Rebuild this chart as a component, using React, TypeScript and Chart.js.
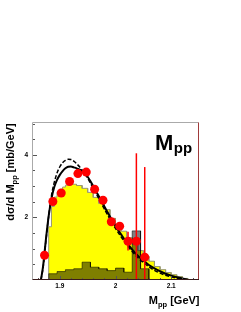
import React, { useEffect, useRef } from 'react';
import { Chart, registerables } from 'chart.js';
Chart.register(...registerables);

// measured points
const pointMass = [1.8725, 1.8875, 1.9025, 1.9175, 1.9325, 1.9475, 1.9625, 1.9775, 1.9925, 2.0075, 2.0225, 2.0375, 2.0525];
const pointXsec = [0.79, 2.51, 2.78, 3.15, 3.40, 3.45, 2.90, 2.55, 1.86, 1.72, 1.24, 1.24, 0.73];
const pointErr = [0.1, 0.1, 0.1, 0.1, 0.1, 0.1, 0.1, 0.1, 0.1, 0.1, 0.3, 2.81, 2.88];

// yellow simulation histogram: bin edges (n+1) and contents (n)
const yellowEdges = [1.88, 1.885, 1.89, 1.895, 1.90, 1.905, 1.91, 1.92, 1.93, 1.94, 1.95, 1.96, 1.97, 1.98, 1.99, 2.00, 2.01, 2.02, 2.03, 2.04, 2.05, 2.06, 2.07, 2.08, 2.09, 2.10, 2.11, 2.12, 2.13];
const yellowValues = [1.7, 2.35, 2.65, 2.8, 2.9, 2.97, 3.03, 3.06, 3.02, 2.93, 2.8, 2.64, 2.45, 2.25, 1.97, 1.76, 1.56, 1.35, 1.14, 0.94, 0.76, 0.6, 0.43, 0.33, 0.24, 0.17, 0.11, 0.05];

// dark (semi-transparent) histogram: bin edges (n+1) and contents (n)
const darkEdges = [1.88, 1.895, 1.91, 1.925, 1.94, 1.955, 1.97, 1.985, 2.0, 2.015, 2.03, 2.045, 2.06];
const darkValues = [0.2, 0.27, 0.33, 0.36, 0.57, 0.41, 0.36, 0.30, 0.38, 0.25, 1.57, 0.36];

// model curves
const curveMass = [1.866, 1.87, 1.875, 1.88, 1.885, 1.89, 1.895, 1.90, 1.905, 1.91, 1.915, 1.92, 1.925, 1.93, 1.94, 1.95, 1.96, 1.97, 1.98, 1.99, 2.00, 2.01, 2.02, 2.03, 2.04, 2.05, 2.06, 2.07, 2.08, 2.09, 2.10, 2.11, 2.12, 2.13];
const solidCurve = [0, 0.45, 1.3, 2.05, 2.6, 2.97, 3.2, 3.36, 3.48, 3.57, 3.62, 3.63, 3.6, 3.57, 3.48, 3.3, 3.0, 2.68, 2.35, 2.03, 1.73, 1.46, 1.2, 0.97, 0.78, 0.62, 0.48, 0.37, 0.28, 0.2, 0.14, 0.09, 0.05, 0.01];
const dashedCurve = [0, 0.4, 1.25, 2.05, 2.7, 3.12, 3.42, 3.62, 3.75, 3.82, 3.86, 3.85, 3.8, 3.72, 3.52, 3.25, 2.93, 2.6, 2.27, 1.95, 1.65, 1.38, 1.13, 0.91, 0.72, 0.56, 0.42, 0.31, 0.22, 0.15, 0.1, 0.06, 0.03, 0.01];

const xMin = 1.85, xMax = 2.15, yMin = 0, yMax = 5.05;
const xLabels = [1.9, 2.0, 2.1];
const xLabelText = ['1.9', '2', '2.1'];
const yLabels = [2, 4];
const yLabelText = ['2', '4'];

const FONT = '"Liberation Sans", Arial, sans-serif';

const zip = (xs: number[], ys: number[]) => xs.map((x, i) => ({ x, y: ys[i] }));
// histogram outline from edges + contents
const histPoints = (edges: number[], vals: number[]) => {
  const pts: { x: number; y: number }[] = [{ x: edges[0], y: 0 }];
  vals.forEach((v, i) => {
    pts.push({ x: edges[i], y: v });
    pts.push({ x: edges[i + 1], y: v });
  });
  pts.push({ x: edges[edges.length - 1], y: 0 });
  return pts;
};

const errorBarPlugin = {
  id: 'errorBars',
  beforeDatasetDraw(chart: any, args: any) {
    if (args.index !== 0) return;
    const { ctx, chartArea, scales } = chart;
    ctx.save();
    ctx.beginPath();
    ctx.rect(chartArea.left, chartArea.top, chartArea.right - chartArea.left, chartArea.bottom - chartArea.top);
    ctx.clip();
    ctx.strokeStyle = '#ff0000';
    ctx.lineWidth = 1.5;
    pointMass.forEach((m, i) => {
      const x = scales.x.getPixelForValue(m);
      const y1 = scales.y.getPixelForValue(Math.max(0, pointXsec[i] - pointErr[i]));
      const y2 = scales.y.getPixelForValue(pointXsec[i] + pointErr[i]);
      ctx.beginPath();
      ctx.moveTo(x, y1);
      ctx.lineTo(x, y2);
      ctx.stroke();
    });
    ctx.restore();
  },
};

const framePlugin = {
  id: 'frame',
  afterDraw(chart: any) {
    const { ctx, chartArea: a, scales } = chart;
    ctx.save();
    ctx.lineWidth = 1;
    // ticks
    ctx.strokeStyle = '#555';
    for (let v = 0.5; v < yMax; v += 0.5) {
      const y = Math.round(scales.y.getPixelForValue(v)) + 0.5;
      const major = Math.abs(v - Math.round(v / 2) * 2) < 1e-6;
      ctx.beginPath();
      ctx.moveTo(a.left, y);
      ctx.lineTo(a.left + (major ? 5 : 3), y);
      ctx.stroke();
    }
    for (let v = 1.86; v < xMax; v += 0.02) {
      const x = Math.round(scales.x.getPixelForValue(v)) + 0.5;
      ctx.beginPath();
      ctx.moveTo(x, a.bottom);
      ctx.lineTo(x, a.bottom - 2);
      ctx.stroke();
    }
    xLabels.forEach((v) => {
      const x = Math.round(scales.x.getPixelForValue(v)) + 0.5;
      ctx.beginPath();
      ctx.moveTo(x, a.bottom);
      ctx.lineTo(x, a.bottom - 4);
      ctx.stroke();
    });
    // frame
    const L = Math.round(a.left) + 0.5, R = Math.round(a.right) - 0.5, T = Math.round(a.top) + 0.5, B = Math.round(a.bottom) - 0.5;
    ctx.strokeStyle = '#aaaaaa';
    ctx.beginPath(); ctx.moveTo(L, B); ctx.lineTo(L, T); ctx.lineTo(R, T); ctx.stroke();
    ctx.strokeStyle = '#a03a3a';
    ctx.beginPath(); ctx.moveTo(R, T); ctx.lineTo(R, B); ctx.stroke();
    ctx.strokeStyle = '#3a1a1a';
    ctx.beginPath(); ctx.moveTo(L, B); ctx.lineTo(R + 0.5, B); ctx.stroke();

    // tick labels
    ctx.fillStyle = '#000';
    ctx.font = `bold 6.5px ${FONT}`;
    ctx.textAlign = 'center';
    ctx.textBaseline = 'top';
    xLabels.forEach((v, i) => {
      ctx.fillText(xLabelText[i], scales.x.getPixelForValue(v), a.bottom + 3);
    });
    ctx.textAlign = 'right';
    ctx.textBaseline = 'middle';
    yLabels.forEach((v, i) => {
      ctx.fillText(yLabelText[i], a.left - 4, scales.y.getPixelForValue(v));
    });

    ctx.textBaseline = 'alphabetic';
    // big title
    ctx.textAlign = 'left';
    ctx.font = `bold 22px ${FONT}`;
    const mX = a.right - 44;
    ctx.fillText('M', mX, a.top + 27.5);
    const mW = ctx.measureText('M').width;
    ctx.font = `bold 15px ${FONT}`;
    ctx.fillText('pp', mX + mW + 0.5, a.top + 31);

    // x title (right aligned)
    ctx.font = `bold 11px ${FONT}`;
    const rest = ' [GeV]';
    const wRest = ctx.measureText(rest).width;
    const wM = ctx.measureText('M').width;
    ctx.font = `bold 7.5px ${FONT}`;
    const wSub = ctx.measureText('pp').width;
    const xEnd = a.right + 0.5;
    const xStart = xEnd - wRest - wSub - wM;
    const xb = 304;
    ctx.font = `bold 11px ${FONT}`;
    ctx.fillText('M', xStart, xb);
    ctx.fillText(rest, xStart + wM + wSub, xb);
    ctx.font = `bold 7.5px ${FONT}`;
    ctx.fillText('pp', xStart + wM, xb + 2.5);

    // y title (rotated)
    ctx.save();
    ctx.translate(14, 172);
    ctx.rotate(-Math.PI / 2);
    ctx.font = `bold 11px ${FONT}`;
    const p1 = 'd\u03c3/d M';
    const p3 = ' [mb/GeV]';
    const w1 = ctx.measureText(p1).width;
    const w3 = ctx.measureText(p3).width;
    ctx.font = `bold 7.5px ${FONT}`;
    const w2 = ctx.measureText('pp').width;
    const total = w1 + w2 + w3;
    const sx = -total / 2;
    ctx.font = `bold 11px ${FONT}`;
    ctx.fillText(p1, sx, 0);
    ctx.font = `bold 7.5px ${FONT}`;
    ctx.fillText('pp', sx + w1, 2.5);
    ctx.font = `bold 11px ${FONT}`;
    ctx.fillText(p3, sx + w1 + w2, 0);
    ctx.restore();

    ctx.restore();
  },
};

export default function App() {
  const ref = useRef<HTMLCanvasElement>(null);
  useEffect(() => {
    if (!ref.current) return;
    Chart.defaults.font.family = FONT;
    const chart = new Chart(ref.current, {
      type: 'scatter',
      data: {
        datasets: [
          {
            type: 'scatter',
            data: zip(pointMass, pointXsec),
            backgroundColor: '#ff0000',
            borderWidth: 0,
            pointRadius: 4.5,
            order: 0,
          } as any,
          {
            type: 'line',
            data: zip(curveMass, solidCurve),
            borderColor: '#000',
            borderWidth: 2,
            pointRadius: 0,
            fill: false,
            cubicInterpolationMode: 'monotone',
            order: 1,
          },
          {
            type: 'line',
            data: zip(curveMass, dashedCurve),
            borderColor: '#000',
            borderWidth: 1.5,
            borderDash: [4, 2],
            pointRadius: 0,
            fill: false,
            cubicInterpolationMode: 'monotone',
            order: 2,
          },
          {
            type: 'line',
            data: histPoints(darkEdges, darkValues),
            borderColor: 'rgba(0,0,0,0.55)',
            borderWidth: 1,
            backgroundColor: 'rgba(0,0,0,0.5)',
            pointRadius: 0,
            tension: 0,
            fill: 'origin',
            order: 3,
          },
          {
            type: 'line',
            data: histPoints(yellowEdges, yellowValues),
            borderColor: '#9a9a70',
            borderWidth: 1,
            backgroundColor: '#ffff00',
            pointRadius: 0,
            tension: 0,
            fill: 'origin',
            order: 4,
          },
        ],
      },
      options: {
        animation: false,
        responsive: true,
        maintainAspectRatio: false,
        layout: { padding: { top: 122, right: 42, bottom: 12, left: 0 } },
        plugins: { legend: { display: false }, tooltip: { enabled: false } },
        scales: {
          x: {
            type: 'linear',
            min: xMin,
            max: xMax,
            afterFit: (s: any) => { s.height = 20; },
            border: { display: false },
            grid: { display: false, drawTicks: false },
            ticks: { display: false },
          },
          y: {
            type: 'linear',
            min: yMin,
            max: yMax,
            afterFit: (s: any) => { s.width = 32; },
            border: { display: false },
            grid: { display: false, drawTicks: false },
            ticks: { display: false },
          },
        },
      },
      plugins: [errorBarPlugin, framePlugin],
    });
    return () => chart.destroy();
  }, []);
  return (
    <div style={{ position: 'fixed', left: 0, top: 0, width: 241, height: 312, background: '#fff' }}>
      <canvas ref={ref} />
    </div>
  );
}
